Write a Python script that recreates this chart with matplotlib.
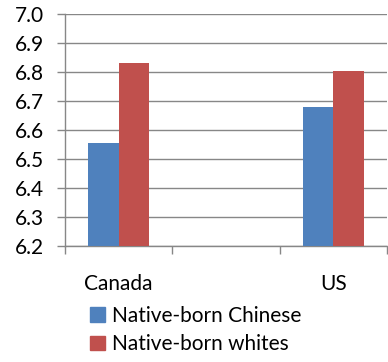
import numpy as np
import matplotlib
matplotlib.use("Agg")
import matplotlib.pyplot as plt
from matplotlib.ticker import FixedLocator

categories = ["Canada", "", "US"]
series_names = ["Native-born Chinese", "Native-born whites"]
chinese = [6.556, np.nan, 6.679]
whites = [6.830, np.nan, 6.803]
y_ticks = [6.2, 6.3, 6.4, 6.5, 6.6, 6.7, 6.8, 6.9, 7.0]

plt.rcParams["font.family"] = ["Lato", "DejaVu Sans"]
FS = 15

fig = plt.figure(figsize=(3.88, 3.62), dpi=100)
ax = fig.add_axes([65 / 388, 1 - 246 / 362, 322 / 388, 232 / 362])

x = np.arange(len(categories))
w = 0.284
colors = ["#4F81BD", "#C0504D"]
ax.bar(x - w / 2, chinese, width=w, color=colors[0], zorder=3)
ax.bar(x + w / 2, whites, width=w, color=colors[1], zorder=3)

ax.set_xlim(-0.5, 2.5)
ax.set_ylim(6.2, 7.0)
ax.set_yticks(y_ticks)
ax.set_yticklabels([f"{v:.1f}" for v in y_ticks], fontsize=FS)
ax.yaxis.grid(True, color="#878787", linewidth=1.0, zorder=0)

ax.set_xticks(x)
ax.set_xticklabels(categories, fontsize=FS)
ax.xaxis.set_minor_locator(FixedLocator([-0.5, 0.5, 1.5, 2.5]))
ax.tick_params(axis="x", which="major", length=0, pad=20)
ax.tick_params(axis="x", which="minor", length=6, color="#878787", width=1.0)
ax.tick_params(axis="y", length=6, color="#878787", width=1.0, pad=9)

for s in ("top", "right"):
    ax.spines[s].set_visible(False)
for s in ("left", "bottom"):
    ax.spines[s].set_color("#878787")
    ax.spines[s].set_linewidth(1.0)

handles = [plt.Rectangle((0, 0), 1, 1, color=c) for c in colors]
fig.legend(handles, series_names, loc="upper left",
           bbox_to_anchor=(90 / 388, 1 - 306 / 362), frameon=False,
           fontsize=FS, handlelength=0.72, handleheight=0.72,
           handletextpad=0.32, labelspacing=0.4, borderpad=0,
           borderaxespad=0)

fig.savefig("out.png", dpi=100)
